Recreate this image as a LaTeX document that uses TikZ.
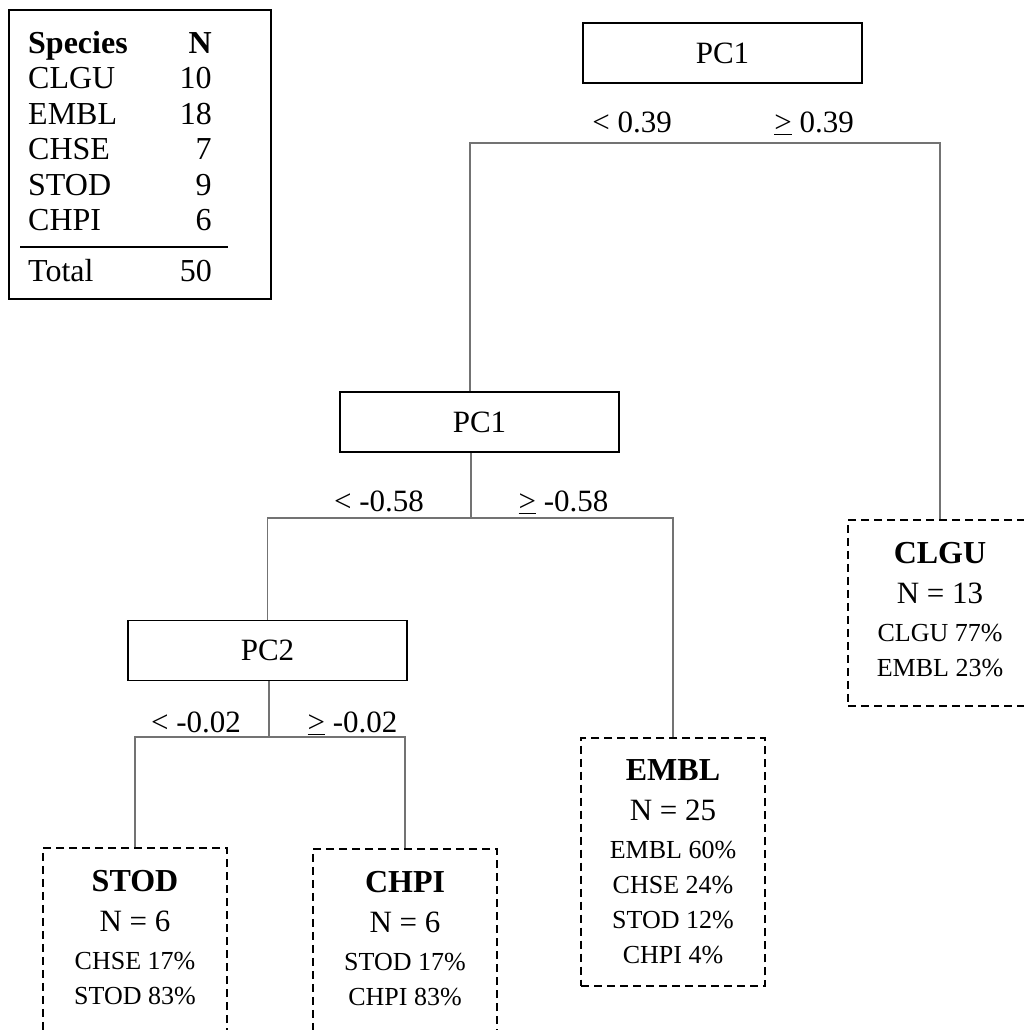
\documentclass[tikz,border=0pt]{standalone}
\usepackage{fontspec}
\setmainfont{Liberation Serif}
\usetikzlibrary{positioning}

\newcommand{\geqbar}{\underline{>}}
\newcommand{\leafpad}{\rule[-8pt]{0pt}{8pt}}

\begin{document}
\begin{tikzpicture}[x=1pt, y=-1pt,
        every node/.style={font=\fontsize{31}{35}\selectfont, inner sep=0pt},
        splitbox/.style={draw, line width=1.8pt, minimum width=279pt, minimum height=60pt},
        leaf/.style={draw, line width=2pt, dash pattern=on 8pt off 5pt, anchor=north,
                     minimum width=184pt, inner ysep=22pt, align=center, font=\fontsize{26}{35}\selectfont},
        cond/.style={font=\fontsize{31}{35}\selectfont},
        link/.style={draw=black!55, line width=1.3pt}
    ]
        \useasboundingbox (0,0) rectangle (1024,1030);
        \clip (0,0) rectangle (1024,1030);

        % Tabla de especies
        \node[draw, line width=1.8pt, minimum width=262pt, minimum height=289pt, anchor=north west] (legend) at (8,9) {};
        \node[anchor=north west, font=\fontsize{32}{35.5}\selectfont] (counts) at (20,28.2) {%
            \setlength{\arrayrulewidth}{1.8pt}%
            \begin{tabular}{@{\hspace{8pt}}l@{\hspace{52pt}}r@{\hspace{16pt}}}
                \textbf{Species} & \textbf{N}\\
                CLGU & 10\\
                EMBL & 18\\
                CHSE & 7\\
                STOD & 9\\
                CHPI & 6\\[5pt]
                \hline
                \rule{0pt}{33.5pt}Total & 50
            \end{tabular}};

        % Nodos de decision
        \node[splitbox] (pca) at (722.5,53)  {PC1};
        \node[splitbox] (pcb) at (479.5,422) {PC1};
        \node[splitbox] (pcc) at (267.5,650.5) {PC2};

        \node[cond] (ca1) at (632,122) {< 0.39};
        \node[cond] (ca2) at (814,123) {\geqbar\ 0.39};
        \node[cond] (cb1) at (379,501) {< -0.58};
        \node[cond] (cb2) at (563.5,502) {\geqbar\ -0.58};
        \node[cond] (cc1) at (196,722) {< -0.02};
        \node[cond] (cc2) at (352.5,723) {\geqbar\ -0.02};

        % Hojas
        \node[leaf] (clgu) at (940,519) {{\fontsize{32}{35}\selectfont\bfseries CLGU}\\[5pt]{\fontsize{31}{35}\selectfont N = 13}\\[3pt]CLGU 77\%\\EMBL 23\%\leafpad};
        \node[leaf] (embl) at (673,737) {{\fontsize{32}{35}\selectfont\bfseries EMBL}\\[5pt]{\fontsize{31}{35}\selectfont N = 25}\\[3pt]EMBL 60\%\\CHSE 24\%\\STOD 12\%\\CHPI 4\%};
        \node[leaf] (stod) at (135,847) {{\fontsize{32}{35}\selectfont\bfseries STOD}\\[5pt]{\fontsize{31}{35}\selectfont N = 6}\\[3pt]CHSE 17\%\\STOD 83\%\leafpad};
        \node[leaf] (chpi) at (405,848) {{\fontsize{32}{35}\selectfont\bfseries CHPI}\\[5pt]{\fontsize{31}{35}\selectfont N = 6}\\[3pt]STOD 17\%\\CHPI 83\%\leafpad};

        % Conexiones
        \coordinate (ja) at (470,143);
        \coordinate (jb) at (471,518);
        \coordinate (jc) at (269,737);
        \draw[link] (pcb.north -| ja) -- (ja) -| (clgu.north);
        \draw[link] (pcb.south -| jb) -- (jb);
        \draw[link] (pcc.north) |- (jb) -| (embl.north);
        \draw[link] (pcc.south -| jc) -- (jc);
        \draw[link] (stod.north) |- (jc) -| (chpi.north);
    \end{tikzpicture}
\end{document}
